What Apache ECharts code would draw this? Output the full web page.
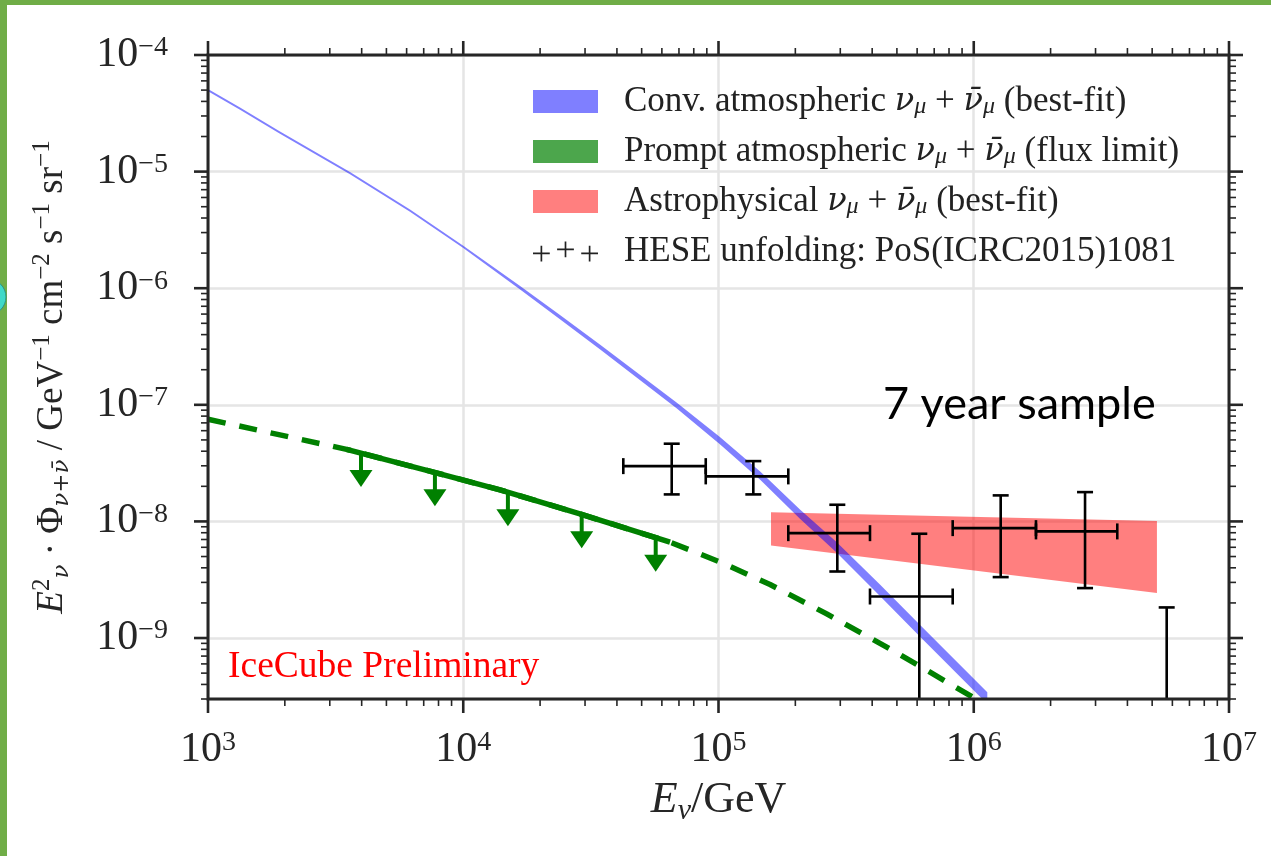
<!DOCTYPE html>
<html><head><meta charset="utf-8">
<script src="https://cdn.jsdelivr.net/npm/echarts@6/dist/echarts.min.js"></script>
<style>html,body{margin:0;padding:0;background:#fff}#c{width:1271px;height:856px}</style>
</head><body><div id="c"></div>
<script>
// ---------- axis ranges & tick labels ----------
const X_MIN = 1e3, X_MAX = 1e7, Y_MIN = 3e-10, Y_MAX = 1e-4;
const xMajor = [1e3, 1e4, 1e5, 1e6, 1e7];
const xMajorExp = ['3', '4', '5', '6', '7'];
const yMajor = [1e-9, 1e-8, 1e-7, 1e-6, 1e-5, 1e-4];
const yMajorExp = ['−9', '−8', '−7', '−6', '−5', '−4'];
const minorMant = [2, 3, 4, 5, 6, 7, 8, 9];
const xMinorDecades = [1e3, 1e4, 1e5, 1e6];
const yMinorDecades = [1e-10, 1e-9, 1e-8, 1e-7, 1e-6, 1e-5];

// ---------- conventional atmospheric band (E in GeV, flux) ----------
const convE  = [1000, 1335, 1900, 3600, 6186, 10000, 16700, 23930, 34400, 68500, 101000, 146000, 208000, 290000, 430000, 615000, 1130000];
const convHi = [5.12e-5, 3.55e-5, 2.23e-5, 9.92e-6, 4.74e-6, 2.31e-6, 1.045e-6, 5.88e-7, 3.27e-7, 1.048e-7, 5.31e-8, 2.67e-8, 1.27e-8, 6.65e-9, 2.87e-9, 1.30e-9, 3.42e-10];
const convLo = [4.89e-5, 3.39e-5, 2.13e-5, 9.48e-6, 4.53e-6, 2.21e-6, 9.75e-7, 5.41e-7, 2.98e-7, 9.35e-8, 4.62e-8, 2.27e-8, 1.06e-8, 5.41e-9, 2.28e-9, 1.03e-9, 2.72e-10];

// ---------- prompt atmospheric ----------
const promptE = [1000, 1914, 3491, 7640, 13930, 28650, 64570, 101370, 159200, 265500, 482800, 993000];
const promptF = [7.52e-8, 5.52e-8, 4.15e-8, 2.65e-8, 1.864e-8, 1.16e-8, 6.64e-9, 4.49e-9, 2.88e-9, 1.61e-9, 7.81e-10, 3.10e-10];
const promptLimE = [3491, 7640, 13930, 28650, 64570];
const promptLimF = [4.15e-8, 2.65e-8, 1.864e-8, 1.16e-8, 6.64e-9];
const arrowE = [3975, 7745, 14960, 29110, 56750];
const arrowF = [3.87e-8, 2.64e-8, 1.78e-8, 1.15e-8, 7.24e-9];

// ---------- astrophysical band ----------
const astroE  = [160600, 5220000];
const astroHi = [1.20e-8, 1.007e-8];
const astroLo = [6.22e-9, 2.43e-9];

// ---------- HESE unfolding ----------
const heseE   = [65570, 136900, 292100, 611900, 1275000, 2729000, 5700000];
const heseELo = [42370, 89130, 187700, 392200, 827000, 1753000, null];
const heseEHi = [89130, 187700, 392200, 827000, 1753000, 3650000, null];
const heseF   = [2.98e-8, 2.433e-8, 7.93e-9, 2.27e-9, 8.76e-9, 8.21e-9, 1.83e-9];
const heseFLo = [1.705e-8, 1.705e-8, 3.72e-9, 1e-10, 3.33e-9, 2.68e-9, 1e-10];
const heseFHi = [4.64e-8, 3.29e-8, 1.39e-8, 7.84e-9, 1.672e-8, 1.784e-8, 1.83e-9];

const SERIF = "'Liberation Serif', 'DejaVu Serif', serif";
const MATH = "'DejaVu Serif', 'Liberation Serif', serif";
const AX = '#262626';
const GREEN = '#008000';

function labelFor(v, majors, exps) {
  for (let i = 0; i < majors.length; i++) {
    if (Math.abs(Math.log10(v) - Math.log10(majors[i])) < 1e-6) return '{b|10}{s|' + exps[i] + '}';
  }
  return '';
}

const tickData = [];
xMajor.forEach(v => tickData.push([v, Y_MIN, 0, 1]));
xMinorDecades.forEach(d => minorMant.forEach(m => { const v = m * d; if (v < X_MAX) tickData.push([v, Y_MIN, 0, 0]); }));
yMajor.forEach(v => tickData.push([X_MIN, v, 1, 1]));
yMinorDecades.forEach(d => minorMant.forEach(m => { const v = m * d; if (v >= Y_MIN * 0.999 && v < Y_MAX) tickData.push([X_MIN, v, 1, 0]); }));

function bandRender(xs, hi, lo, fill) {
  return function (params, api) {
    if (params.dataIndex !== 0) return null;
    const pts = [];
    for (let i = 0; i < xs.length; i++) pts.push(api.coord([xs[i], hi[i]]));
    for (let i = xs.length - 1; i >= 0; i--) pts.push(api.coord([xs[i], lo[i]]));
    return { type: 'polygon', shape: { points: pts }, style: { fill: fill } };
  };
}

const labelRich = {
  b: { fontSize: 42, lineHeight: 42, fontFamily: SERIF, color: AX },
  s: { fontSize: 28, lineHeight: 24, verticalAlign: 'top', fontFamily: SERIF, color: AX }
};

const legendText = {
  conv: 'Conv. atmospheric {i|ν}{s|μ} + {i|ν̄}{s|μ} (best-fit)',
  prompt: 'Prompt atmospheric {i|ν}{s|μ} + {i|ν̄}{s|μ} (flux limit)',
  astro: 'Astrophysical {i|ν}{s|μ} + {i|ν̄}{s|μ} (best-fit)',
  hese: 'HESE unfolding: PoS(ICRC2015)1081'
};
const PLUS3 = 'path://M2,11h16v1.6h-16z M9.2,4.5h1.6v15h-1.6z M25,7.2h16v1.6h-16z M32.2,0.5h1.6v15h-1.6z M48,11h16v1.6h-16z M55.2,4.5h1.6v15h-1.6z';

const chart = echarts.init(document.getElementById('c'), null, { renderer: 'canvas' });
chart.setOption({
  animation: false,
  backgroundColor: '#fff',
  grid: { left: 208, top: 55, width: 1021, height: 644, containLabel: false },
  xAxis: {
    type: 'log', logBase: 10, min: X_MIN, max: X_MAX,
    axisLine: { show: false }, axisTick: { show: false },
    splitLine: { show: true, lineStyle: { color: '#e5e5e5', width: 2.5 } },
    axisLabel: { formatter: v => labelFor(v, xMajor, xMajorExp), margin: 30, showMinLabel: true, showMaxLabel: true, rich: labelRich },
    name: '{i|E}{sb|ν}/GeV', nameLocation: 'middle', nameGap: 71,
    nameTextStyle: { fontFamily: SERIF, fontSize: 44, color: AX, lineHeight: 50,
      rich: { i: { fontStyle: 'italic', fontSize: 44, fontFamily: SERIF, color: AX, lineHeight: 50 },
              sb: { fontStyle: 'italic', fontSize: 30, lineHeight: 26, verticalAlign: 'bottom', fontFamily: SERIF, color: AX } } }
  },
  yAxis: {
    type: 'log', logBase: 10, min: Y_MIN, max: Y_MAX,
    axisLine: { show: false }, axisTick: { show: false },
    splitLine: { show: true, lineStyle: { color: '#e5e5e5', width: 2.5 } },
    axisLabel: { formatter: v => labelFor(v, yMajor, yMajorExp), margin: 40, showMinLabel: true, showMaxLabel: true, rich: labelRich },
    name: '{i|E}{sp|2}{sb|ν} · Φ{sb|ν+ν̄} / GeV{sp|−1} cm{sp|−2} s{sp|−1} sr{sp|−1}',
    nameLocation: 'middle', nameGap: 134, nameRotate: 90,
    nameTextStyle: { fontFamily: SERIF, fontSize: 37, color: AX, lineHeight: 44,
      rich: { i: { fontStyle: 'italic', fontSize: 37, fontFamily: SERIF, color: AX, lineHeight: 44 },
              sp: { fontSize: 25, lineHeight: 24, verticalAlign: 'top', fontFamily: SERIF, color: AX },
              sb: { fontStyle: 'italic', fontSize: 23, lineHeight: 24, verticalAlign: 'bottom', fontFamily: MATH, color: AX } } }
  },
  legend: {
    left: 533, top: 84, orient: 'vertical', padding: 0,
    itemWidth: 65, itemHeight: 23, itemGap: 15, selectedMode: false,
    data: [
      { name: 'conv', icon: 'rect', itemStyle: { color: 'rgba(0,0,255,0.5)' } },
      { name: 'prompt', icon: 'rect', itemStyle: { color: 'rgba(0,128,0,0.7)' } },
      { name: 'astro', icon: 'rect', itemStyle: { color: 'rgba(255,0,0,0.5)' } },
      { name: 'hese', icon: PLUS3, itemStyle: { color: '#222' } }
    ],
    formatter: n => legendText[n],
    textStyle: { fontFamily: SERIF, fontSize: 35, color: '#222', lineHeight: 35, padding: [0, 0, 0, 21],
      rich: { i: { fontStyle: 'italic', fontFamily: MATH, fontSize: 32, color: '#222', lineHeight: 35 },
              s: { fontStyle: 'italic', fontFamily: SERIF, fontSize: 24, color: '#222', lineHeight: 22, verticalAlign: 'bottom' } } }
  },
  graphic: [
    { type: 'text', left: 228, top: 648, z: 20,
      style: { text: 'IceCube Preliminary', fill: '#ff0000', font: "37.5px 'Liberation Serif'" } },
    { type: 'text', left: 883, top: 382, z: 20,
      style: { text: '7 year sample', fill: '#000', font: "45px Lato" } },
    { type: 'rect', left: 0, top: 0, z: 30, shape: { width: 1271, height: 5 }, style: { fill: '#70ad47' } },
    { type: 'rect', left: 0, top: 0, z: 30, shape: { width: 7, height: 856 }, style: { fill: '#70ad47' } },
    { type: 'circle', z: 31, x: -12, y: 297, shape: { cx: 0, cy: 0, r: 18 }, style: { fill: '#3fd9c8', stroke: '#2b8f83', lineWidth: 1 } }
  ],
  series: [
    { name: 'astro', type: 'custom', clip: true, z: 2, itemStyle: { color: 'rgba(255,0,0,0.5)' },
      data: astroE.map((e, i) => [e, astroHi[i]]),
      renderItem: bandRender(astroE, astroHi, astroLo, 'rgba(255,0,0,0.5)') },
    { name: 'conv', type: 'custom', clip: true, z: 3, itemStyle: { color: 'rgba(0,0,255,0.5)' },
      data: convE.map((e, i) => [e, convHi[i]]),
      renderItem: bandRender(convE, convHi, convLo, 'rgba(0,0,255,0.5)') },
    { name: 'promptDashed', type: 'line', z: 4, symbol: 'none', clip: true,
      data: promptE.map((e, i) => [e, promptF[i]]),
      lineStyle: { color: GREEN, width: 5.5, type: [18, 14], cap: 'butt' } },
    { name: 'promptSolid', type: 'line', z: 5, symbol: 'none', clip: true,
      data: promptLimE.map((e, i) => [e, promptLimF[i]]),
      lineStyle: { color: GREEN, width: 5.5, cap: 'butt' } },
    { name: 'prompt', type: 'custom', z: 5, itemStyle: { color: 'rgba(0,128,0,0.7)' },
      data: arrowE.map((e, i) => [e, arrowF[i]]),
      renderItem: function (params, api) {
        const p = api.coord([api.value(0), api.value(1)]);
        const x = p[0], y = p[1];
        return { type: 'group', children: [
          { type: 'rect', shape: { x: x - 2, y: y, width: 4, height: 19 }, style: { fill: GREEN } },
          { type: 'polygon', shape: { points: [[x - 11.5, y + 17], [x + 11.5, y + 17], [x, y + 34]] }, style: { fill: GREEN } }
        ] };
      } },
    { name: 'hese', type: 'custom', clip: true, z: 6, itemStyle: { color: '#000' },
      data: heseE.map((e, i) => [e, heseF[i]]),
      renderItem: function (params, api) {
        const i = params.dataIndex;
        const st = { stroke: '#000', lineWidth: 2.6 };
        const ch = [];
        const top = api.coord([heseE[i], heseFHi[i]]);
        const bot = api.coord([heseE[i], heseFLo[i]]);
        ch.push({ type: 'line', shape: { x1: top[0], y1: top[1], x2: bot[0], y2: bot[1] }, style: st });
        ch.push({ type: 'line', shape: { x1: top[0] - 8, y1: top[1], x2: top[0] + 8, y2: top[1] }, style: st });
        ch.push({ type: 'line', shape: { x1: bot[0] - 8, y1: bot[1], x2: bot[0] + 8, y2: bot[1] }, style: st });
        if (heseELo[i] != null) {
          const l = api.coord([heseELo[i], heseF[i]]);
          const r = api.coord([heseEHi[i], heseF[i]]);
          ch.push({ type: 'line', shape: { x1: l[0], y1: l[1], x2: r[0], y2: r[1] }, style: st });
          ch.push({ type: 'line', shape: { x1: l[0], y1: l[1] - 8, x2: l[0], y2: l[1] + 8 }, style: st });
          ch.push({ type: 'line', shape: { x1: r[0], y1: r[1] - 8, x2: r[0], y2: r[1] + 8 }, style: st });
        }
        return { type: 'group', children: ch };
      } },
    { name: 'ticks', type: 'custom', z: 10, silent: true,
      data: tickData,
      renderItem: function (params, api) {
        const kind = api.value(2), major = api.value(3);
        const len = major ? 14 : 7;
        const style = { stroke: AX, lineWidth: major ? 2.6 : 1.6 };
        if (kind === 0) {
          const v = api.value(0);
          const b = api.coord([v, Y_MIN]), t = api.coord([v, Y_MAX]);
          return { type: 'group', children: [
            { type: 'line', shape: { x1: b[0], y1: b[1], x2: b[0], y2: b[1] + len }, style: style },
            { type: 'line', shape: { x1: t[0], y1: t[1], x2: t[0], y2: t[1] - len }, style: style } ] };
        }
        const v = api.value(1);
        const l = api.coord([X_MIN, v]), r = api.coord([X_MAX, v]);
        return { type: 'group', children: [
          { type: 'line', shape: { x1: l[0], y1: l[1], x2: l[0] - len, y2: l[1] }, style: style },
          { type: 'line', shape: { x1: r[0], y1: r[1], x2: r[0] + len, y2: r[1] }, style: style } ] };
      } },
    { name: 'frame', type: 'custom', z: 11, silent: true,
      data: [[X_MIN, Y_MIN]],
      renderItem: function (params, api) {
        const a = api.coord([X_MIN, Y_MAX]), b = api.coord([X_MAX, Y_MIN]);
        return { type: 'rect', shape: { x: a[0], y: a[1], width: b[0] - a[0], height: b[1] - a[1] },
                 style: { fill: 'none', stroke: AX, lineWidth: 3 } };
      } }
  ]
});
</script>
</body></html>
